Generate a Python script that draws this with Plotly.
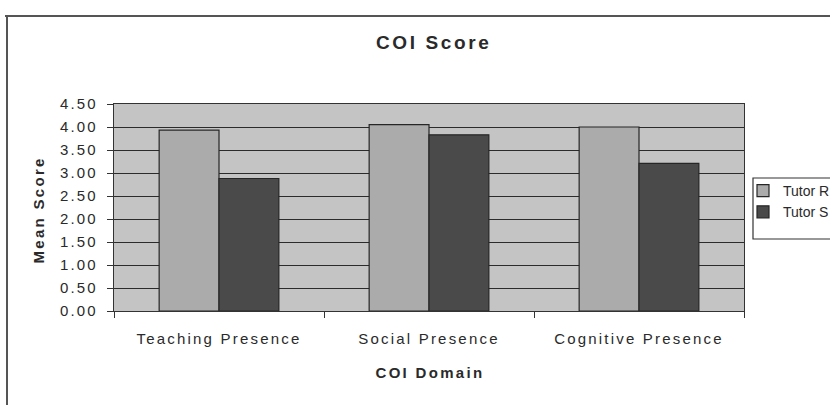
import plotly.graph_objects as go

categories = ["Teaching Presence", "Social Presence", "Cognitive Presence"]
series_names = ["Tutor R", "Tutor S"]
tutor_r = [3.93, 4.05, 4.00]
tutor_s = [2.88, 3.83, 3.21]
y_ticks = [0, 0.5, 1.0, 1.5, 2.0, 2.5, 3.0, 3.5, 4.0, 4.5]

W, H = 830, 405
L, R, T, B = 114, 86, 104, 94
pw, ph = W - L - R, H - T - B

def px(x):
    return (x - L) / pw

def py(y):
    return (H - B - y) / ph

FONT = "Liberation Sans, Arial, sans-serif"
TXT = "#2a2a2a"

fig = go.Figure()
fig.add_trace(go.Bar(name=series_names[0], x=categories, y=tutor_r,
                     marker=dict(color="#ababab", line=dict(color="#262626", width=1.2))))
fig.add_trace(go.Bar(name=series_names[1], x=categories, y=tutor_s,
                     marker=dict(color="#4a4a4a", line=dict(color="#262626", width=1.2))))

fig.update_layout(
    width=W, height=H,
    margin=dict(l=L, r=R, t=T, b=B, autoexpand=False),
    paper_bgcolor="white",
    plot_bgcolor="#c4c4c4",
    barmode="group", bargap=0.43, bargroupgap=0,
    font=dict(family=FONT, size=15, color=TXT),
    showlegend=True,
    legend=dict(x=px(743), y=py(175), xanchor="left", yanchor="top",
                bgcolor="rgba(0,0,0,0)", borderwidth=0,
                font=dict(family=FONT, size=14, color=TXT),
                traceorder="normal"),
    title=dict(text="<b>COI Score</b>", x=0.5225, xanchor="center",
               y=1 - 42 / H, yanchor="middle", yref="container",
               font=dict(family=FONT, size=19, color=TXT)),
)

fig.update_yaxes(range=[0, 4.5], tickvals=y_ticks, tickformat=".2f",
                 showgrid=True, gridcolor="#2b2b2b", gridwidth=1.4,
                 zeroline=False, showline=True, linecolor="#333", linewidth=1.2,
                 mirror=True, ticks="outside", ticklen=6, tickcolor="#333",
                 ticklabelstandoff=6, tickfont=dict(size=15, color=TXT))
fig.update_xaxes(showgrid=False, showline=True, linecolor="#333", linewidth=1.2,
                 mirror=True, ticks="outside", ticklen=6, tickcolor="#333",
                 tickson="boundaries", ticklabelstandoff=14,
                 tickfont=dict(size=15, color=TXT))

fig.add_annotation(text="<b>COI Domain</b>", xref="paper", yref="paper",
                   x=px(430), y=py(372), showarrow=False,
                   xanchor="center", yanchor="middle",
                   font=dict(family=FONT, size=15, color=TXT))
fig.add_annotation(text="<b>Mean Score</b>", xref="paper", yref="paper",
                   x=px(38), y=py(210), showarrow=False, textangle=-90,
                   xanchor="center", yanchor="middle",
                   font=dict(family=FONT, size=15, color=TXT))

# outer chart border
fig.add_shape(type="line", xref="paper", yref="paper",
              x0=px(7), x1=px(7), y0=py(16), y1=py(420),
              line=dict(color="#555", width=2))
fig.add_shape(type="line", xref="paper", yref="paper",
              x0=px(5), x1=px(840), y0=py(16), y1=py(16),
              line=dict(color="#555", width=2))
# legend frame
fig.add_shape(type="rect", xref="paper", yref="paper",
              x0=px(753), x1=px(845), y0=py(178), y1=py(239),
              fillcolor="white", line=dict(color="#333", width=1.2), layer="above")

post = """
document.body.style.margin='0';
var gd = document.getElementsByClassName('plotly-graph-div')[0];
gd.querySelectorAll('.xtick text, .ytick text').forEach(function(t){t.style.letterSpacing='2.2px';});
gd.querySelectorAll('.annotation-text').forEach(function(t){t.style.letterSpacing='2.3px';});
gd.querySelectorAll('.gtitle').forEach(function(t){t.style.letterSpacing='2.6px';});
"""

fig.write_html("out.html", post_script=post, config={"displayModeBar": False})
